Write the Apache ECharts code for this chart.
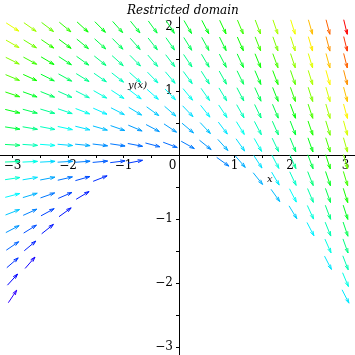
<!DOCTYPE html>
<html><head><meta charset="utf-8">
<script src="https://cdn.jsdelivr.net/npm/echarts@6/dist/echarts.min.js"></script>
<style>html,body{margin:0;padding:0;background:#fff}#c{width:355px;height:355px}</style>
</head><body><div id="c"></div>
<script>
// Grid of arrow sample points (20 x 20)
const gridX = [-3, -2.6842, -2.3684, -2.0526, -1.7368, -1.4211, -1.1053, -0.7895, -0.4737, -0.1579,
               0.1579, 0.4737, 0.7895, 1.1053, 1.4211, 1.7368, 2.0526, 2.3684, 2.6842, 3];
const gridY = [2, 1.7368, 1.4737, 1.2105, 0.9474, 0.6842, 0.4211, 0.1579, -0.1053, -0.3684,
               -0.6316, -0.8947, -1.1579, -1.4211, -1.6842, -1.9474, -2.2105, -2.4737, -2.7368, -3];
const xTickLabels = [-3, -2, -1, 0, 1, 2, 3];
const yTickLabels = [-3, -2, -1, 1, 2];
const xTicks = [-3, -2.5, -2, -1.5, -1, -0.5, 0.5, 1, 1.5, 2, 2.5, 3];
const yTicks = [-3, -2.5, -2, -1.5, -1, -0.5, 0.5, 1, 1.5, 2];

// The ODE whose direction field is drawn: y' = (-x - sqrt(x^2 + 4y)) / 2, defined where x^2+4y >= 0
function slope(x, y) { return (-x - Math.sqrt(x * x + 4 * y)) / 2; }
function inDomain(x, y) { return x * x + 4 * y >= -1e-9; }
function hueAt(x, y) { return Math.max(0, Math.min(265, 220 - 11 * (x * x + x + 4 * y))); }

const points = [];
for (const y of gridY) for (const x of gridX) {
  if (inDomain(x, y)) points.push([x, y, slope(x, y)]);
}

const GL = 0, GT = 17, GW = 355, GH = 338;
const XMIN = -179 / 55.5, XMAX = (355 - 179) / 55.5;
const YMIN = (155 - 355) / 64, YMAX = (155 - 17) / 64;
// offsets that put each axis through the origin
const xAxisOffset = -GH * (0 - YMIN) / (YMAX - YMIN);
const yAxisOffset = -GW * (0 - XMIN) / (XMAX - XMIN);
const FONT = 'DejaVu Serif';
const minus = v => (v < 0 ? '\u2212' + Math.abs(v) : String(v));

const chart = echarts.init(document.getElementById('c'), null, {renderer: 'canvas'});
chart.setOption({
  animation: false,
  backgroundColor: '#fff',
  title: {
    text: 'Restricted domain', left: 122, top: 0,
    textStyle: {fontFamily: FONT, fontStyle: 'italic', fontWeight: 'normal', fontSize: 12, color: '#000'}
  },
  grid: {left: GL, top: GT, width: GW, height: GH, containLabel: false, outerBoundsMode: 'none'},
  xAxis: {
    type: 'value', min: XMIN, max: XMAX, position: 'bottom', offset: xAxisOffset,
    splitLine: {show: false},
    axisLine: {onZero: false, lineStyle: {color: '#000', width: 1}},
    axisTick: {show: true, customValues: xTicks, length: 3, lineStyle: {color: '#000'}},
    axisLabel: {
      customValues: xTickLabels, margin: 5, fontFamily: FONT, fontSize: 12, color: '#000',
      formatter: v => (v === 0 ? '{z|0}' : minus(v)),
      rich: {z: {fontFamily: FONT, fontSize: 12, color: '#000', padding: [0, 13, 0, 0]}}
    }
  },
  yAxis: {
    type: 'value', min: YMIN, max: YMAX, position: 'left', offset: yAxisOffset,
    splitLine: {show: false},
    axisLine: {onZero: false, lineStyle: {color: '#000', width: 1}},
    axisTick: {show: true, customValues: yTicks, length: 3, lineStyle: {color: '#000'}},
    axisLabel: {customValues: yTickLabels, margin: 6, fontFamily: FONT, fontSize: 12, color: '#000', formatter: minus}
  },
  graphic: [
    {type: 'text', left: 128, top: 80, style: {text: 'y(x)', fontFamily: FONT, fontStyle: 'italic', fontSize: 10, fill: '#000'}},
    {type: 'text', left: 267, top: 174, style: {text: 'x', fontFamily: FONT, fontStyle: 'italic', fontSize: 10, fill: '#000'}}
  ],
  series: [{
    type: 'custom',
    coordinateSystem: 'cartesian2d',
    data: points,
    clip: false,
    renderItem: function (params, api) {
      const x = api.value(0), y = api.value(1), f = api.value(2);
      const c = api.coord([x, y]);
      const c2 = api.coord([x + 0.1, y + 0.1 * f]);
      let dx = c2[0] - c[0], dy = c2[1] - c[1];
      const n = Math.hypot(dx, dy); dx /= n; dy /= n;
      const L = 7.5;
      const a = [c[0] - dx * L, c[1] - dy * L], b = [c[0] + dx * L, c[1] + dy * L];
      const ang = Math.atan2(dy, dx), hl = 5, ha = 0.3;
      const h1 = [b[0] - hl * Math.cos(ang - ha), b[1] - hl * Math.sin(ang - ha)];
      const h2 = [b[0] - hl * Math.cos(ang + ha), b[1] - hl * Math.sin(ang + ha)];
      const color = 'hsl(' + hueAt(x, y).toFixed(1) + ',100%,50%)';
      return {
        type: 'group',
        children: [
          {type: 'polyline', shape: {points: [a, b]}, style: {stroke: color, lineWidth: 1, fill: null}},
          {type: 'polyline', shape: {points: [h1, b, h2]}, style: {stroke: color, lineWidth: 1, fill: null}}
        ]
      };
    }
  }]
});
</script>
</body></html>
